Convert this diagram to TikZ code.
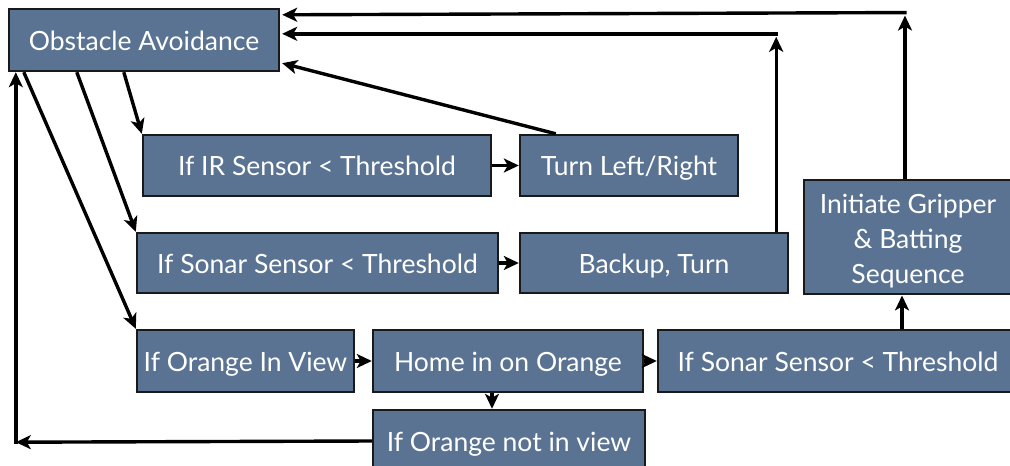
\documentclass[tikz,border=0pt]{standalone}
\usepackage{fontspec}
\setmainfont{Lato}
\usetikzlibrary{arrows.meta,calc}
\definecolor{boxfill}{RGB}{90,115,146}
\definecolor{boxline}{RGB}{25,25,25}
\tikzset{
  blk/.style={draw=boxline, line width=2.4pt, fill=boxfill, text=white, inner sep=0pt,
    font=\fontsize{26.5}{35}\selectfont, anchor=center},
  oneline/.style={text height=20pt, text depth=0pt},
  conn/.style={line width=3.4pt, -{Stealth[length=15pt,width=14pt,inset=4pt]}},
}
\begin{document}
\begin{tikzpicture}[x=1pt,y=-1pt]
\useasboundingbox (0,0) rectangle (1010,466);
\node[blk, oneline, minimum width=270pt, minimum height=62pt] (OA) at (144,40) {Obstacle Avoidance};
\node[blk, oneline, minimum width=348pt, minimum height=61pt] (IR) at (317,165.5) {If IR Sensor < Threshold};
\node[blk, oneline, minimum width=218pt, minimum height=61pt] (Turn) at (629,165.5) {Turn Left/Right};
\node[blk, oneline, minimum width=361pt, minimum height=60pt] (S1) at (317.5,263) {If Sonar Sensor < Threshold};
\node[blk, oneline, minimum width=268pt, minimum height=60pt] (Back) at (654,263) {Backup, Turn};
\node[blk, minimum width=208pt, minimum height=110pt] (Grip) at (908,237) {\begin{tabular}{@{}c@{}}\rule{0pt}{34pt}Initiate Gripper\\ \& Batting\\ Sequence\end{tabular}};
\node[blk, oneline, minimum width=217pt, minimum height=62pt] (OIV) at (245.5,361) {If Orange In View};
\node[blk, oneline, minimum width=270pt, minimum height=62pt] (Home) at (508,361) {Home in on Orange};
\node[blk, oneline, minimum width=272pt, minimum height=62pt] (NIV) at (509,441) {If Orange not in view};
\node[blk, oneline, minimum width=360pt, minimum height=62pt] (S2) at (838,361) {If Sonar Sensor < Threshold};

\coordinate (cBack) at ($(Back.north east)+(-13,-195)$);
\coordinate (cGrip) at ($(Grip.north)+(-3,-163)$);
\coordinate (cLeft) at ($(OA.south west)+(8,370)$);

% from OA down to the conditions
\draw[conn] ($(OA.south west)+(116,0)$) -- (IR.north west);
\draw[conn] ($(OA.south west)+(69,0)$) -- (S1.north west);
\draw[conn] ($(OA.south west)+(16,0)$) -- (OIV.north west);
% horizontal chains
\draw[conn] (IR.east) -- (Turn.west);
\draw[conn] (S1.east) -- (Back.west);
\draw[conn] (OIV.east) -- (Home.west);
\draw[conn] (Home.east) -- (S2.west);
\draw[conn] ($(Home.south)+(-16,0)$) -- ($(NIV.north)+(-17,0)$);
\draw[conn] ($(S2.north)+(64,0)$) -- ($(Grip.south)+(-6,0)$);
% returns to OA
\draw[conn] ($(Turn.north west)+(37,0)$) -- ($(OA.south east)+(2,-9)$);
\draw[conn] ($(Back.north east)+(-13,0)$) -- (cBack);
\draw[conn] ($(cBack)+(1.7,-3)$) -- ($(OA.north east)+(2,26)$);
\draw[conn] ($(Grip.north)+(-3,0)$) -- (cGrip);
\draw[conn] ($(cGrip)+(1.7,-3)$) -- ($(OA.north east)+(2,7)$);
\draw[conn] (NIV.west) -- (cLeft);
\draw[conn] ($(cLeft)+(0,1.7)$) -- ($(OA.south west)+(8,0)$);
\end{tikzpicture}
\end{document}
